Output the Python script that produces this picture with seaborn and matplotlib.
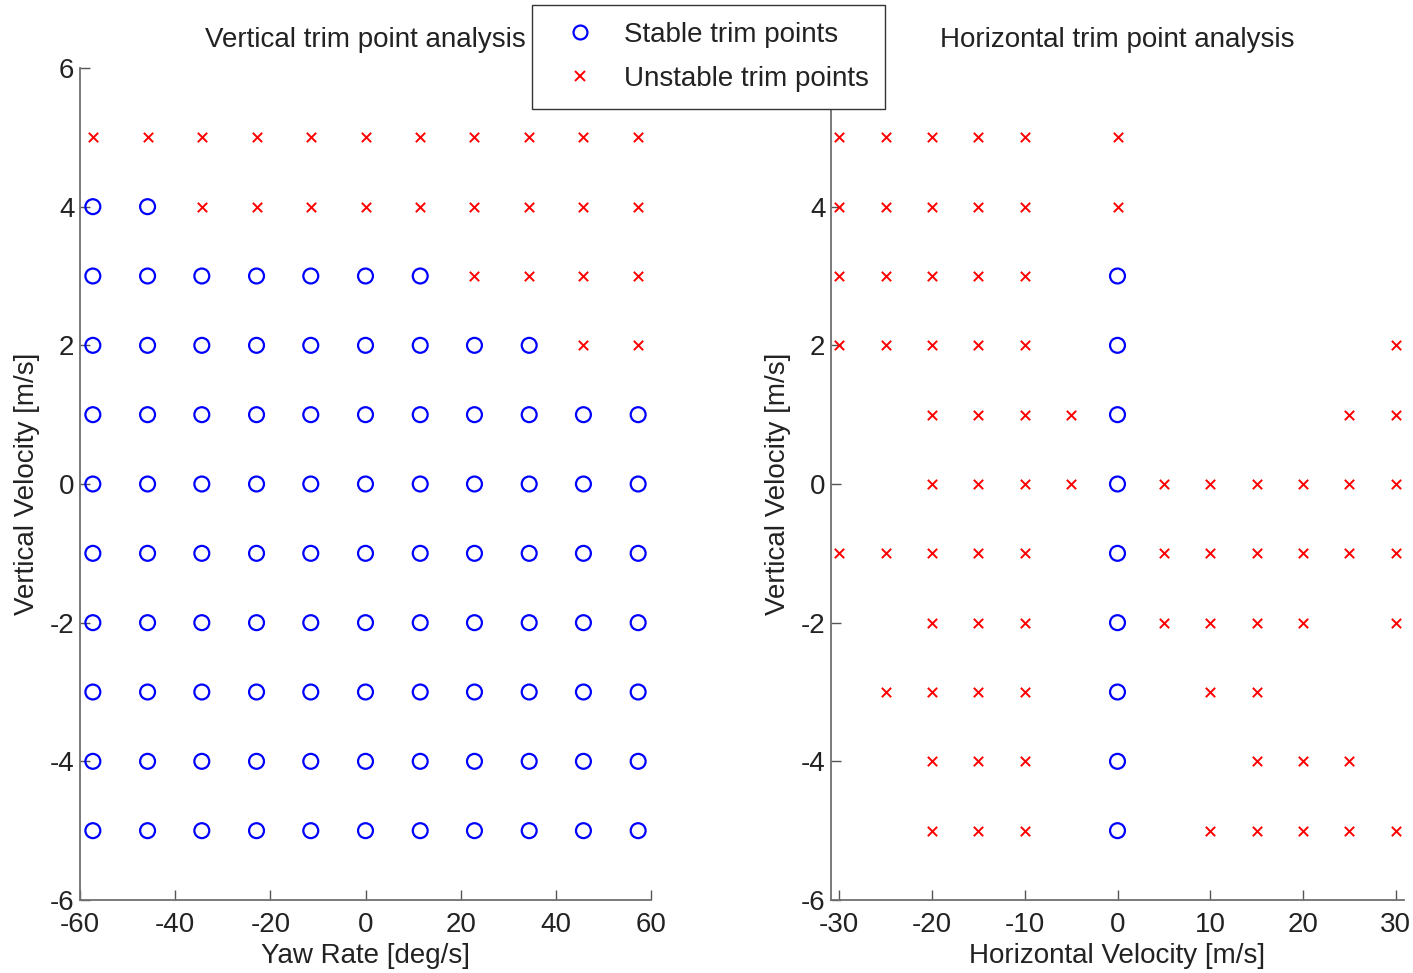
import matplotlib

matplotlib.use("Agg")
import matplotlib.pyplot as plt
import pandas as pd
import seaborn as sns
from matplotlib.lines import Line2D

sns.set_theme(style="white")
plt.rcParams["font.family"] = ["Liberation Sans", "DejaVu Sans"]
plt.rcParams["axes.unicode_minus"] = False

# --- data -----------------------------------------------------------------
yaw_rates = [-57.3, -45.8, -34.4, -22.9, -11.5, 0.0, 11.5, 22.9, 34.4, 45.8, 57.3]
horiz_vel = [-30, -25, -20, -15, -10, -5, 0, 5, 10, 15, 20, 25, 30]
vert_vel = [5, 4, 3, 2, 1, 0, -1, -2, -3, -4, -5]

# o = stable, x = unstable, . = no trim point (rows follow vert_vel)
vertical_grid = [
    "xxxxxxxxxxx",
    "ooxxxxxxxxx",
    "oooooooxxxx",
    "oooooooooxx",
    "ooooooooooo",
    "ooooooooooo",
    "ooooooooooo",
    "ooooooooooo",
    "ooooooooooo",
    "ooooooooooo",
    "ooooooooooo",
]
horizontal_grid = [
    "xxxxx.x......",
    "xxxxx.x......",
    "xxxxx.o......",
    "xxxxx.o.....x",
    "..xxxxo....xx",
    "..xxxxoxxxxxx",
    "xxxxx.oxxxxxx",
    "..xxx.oxxxx.x",
    ".xxxx.o.xx...",
    "..xxx.o..xxx.",
    "..xxx.o.xxxxx",
]
y_ticks = [-6, -4, -2, 0, 2, 4, 6]

FS = 20
TXT = "#222222"


def to_frame(xs, grid):
    rows = []
    for vz, line in zip(vert_vel, grid):
        for x, c in zip(xs, line):
            if c == "o":
                rows.append((x, vz, "Stable"))
            elif c == "x":
                rows.append((x, vz, "Unstable"))
    return pd.DataFrame(rows, columns=["x", "vz", "status"])


def draw(ax, df):
    st = df[df.status == "Stable"]
    un = df[df.status == "Unstable"]
    sns.scatterplot(data=st, x="x", y="vz", ax=ax, marker="o", s=115,
                    facecolors="none", edgecolor="blue", linewidth=1.6)
    sns.scatterplot(data=un, x="x", y="vz", ax=ax, marker="x", s=45,
                    color="red", linewidth=1.4)
    ax.set_ylim(-6, 6)
    ax.set_yticks(y_ticks)
    for side in ("top", "right"):
        ax.spines[side].set_visible(False)
    for side in ("left", "bottom"):
        ax.spines[side].set_color("#707070")
        ax.spines[side].set_linewidth(1.3)
    ax.tick_params(direction="in", length=7, width=1.0, color="#555555",
                   labelsize=FS, labelcolor=TXT, left=True, bottom=True)
    ax.tick_params(axis="x", pad=9)
    ax.tick_params(axis="y", pad=4)
    ax.set_ylabel("Vertical Velocity [m/s]", fontsize=FS, color=TXT, labelpad=7)


fig = plt.figure(figsize=(14.13, 9.73), dpi=100)
ax1 = fig.add_axes([80 / 1413, 1 - 900 / 973, 571 / 1413, 832 / 973])
ax2 = fig.add_axes([831 / 1413, 1 - 900 / 973, 573 / 1413, 832 / 973])

draw(ax1, to_frame(yaw_rates, vertical_grid))
ax1.set_xlim(-60, 60)
ax1.set_xticks([-60, -40, -20, 0, 20, 40, 60])
ax1.set_xlabel("Yaw Rate [deg/s]", fontsize=FS, color=TXT, labelpad=3)
ax1.set_title("Vertical trim point analysis", fontsize=FS, color=TXT, pad=15)

draw(ax2, to_frame(horiz_vel, horizontal_grid))
ax2.set_xlim(-30.9, 30.9)
ax2.set_xticks([-30, -20, -10, 0, 10, 20, 30])
# the top label sits under the legend box in the reference
ax2.set_yticklabels([str(t) if t != 6 else "" for t in y_ticks])
ax2.set_xlabel("Horizontal Velocity [m/s]", fontsize=FS, color=TXT, labelpad=3)
ax2.set_title("Horizontal trim point analysis", fontsize=FS, color=TXT, pad=15)

handles = [
    Line2D([], [], marker="o", ls="none", mfc="none", mec="blue", ms=10, mew=1.6),
    Line2D([], [], marker="x", ls="none", color="red", ms=7, mew=1.4),
]
leg = fig.legend(handles, ["Stable trim points", "Unstable trim points"],
                 loc="upper left", bbox_to_anchor=(532 / 1413, 1 - 5 / 973),
                 fontsize=FS, frameon=True, fancybox=False, framealpha=1,
                 borderpad=0.6, handletextpad=0.47, labelspacing=0.66,
                 handlelength=2.23, borderaxespad=0)
leg.get_frame().set_edgecolor("#333333")
leg.get_frame().set_linewidth(1.0)
for t in leg.get_texts():
    t.set_color(TXT)
leg.set_zorder(10)

fig.savefig("out.png", dpi=100)
